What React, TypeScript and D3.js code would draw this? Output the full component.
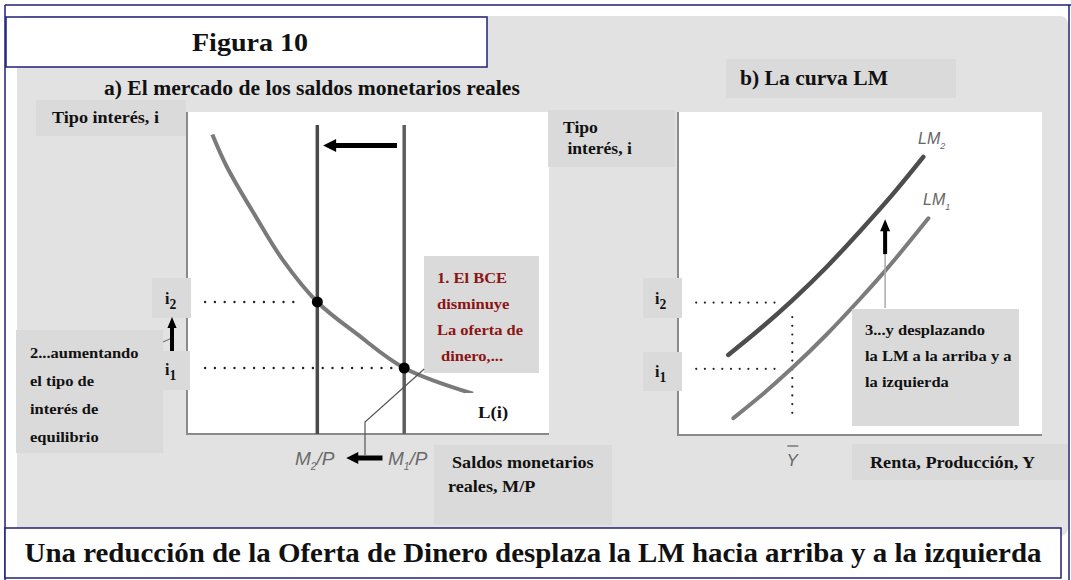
import React from 'react';
import * as d3 from 'd3';

// a) money market: demand L(i)
const demandM = [0.7, 1.1, 1.9, 2.65, 3.6, 4.7, 6.0, 7.9];
const demandI = [9.3, 8.3, 6.75, 5.4, 4.1, 3.1, 2.05, 1.25];
const supplyLevels = [3.6, 6.0]; // M2/P, M1/P
const supplyTop = 9.6;
const rateLevels = [2.05, 4.1]; // i1, i2

// b) LM curves
const lm1Y = [1.52, 2.25, 3.14, 4.09, 5.0, 5.69, 6.88];
const lm1I = [0.52, 1.19, 2.08, 3.12, 4.21, 5.08, 6.71];
const lm2Y = [1.38, 2.25, 3.17, 4.09, 5.0, 5.92, 6.74];
const lm2I = [2.48, 3.28, 4.2, 5.21, 6.31, 7.48, 8.61];
const outputLevel = 3.14; // Y barra

const bceLines = ['1. El BCE', 'disminuye', 'La oferta de', ' dinero,...'];
const rateLines = ['2...aumentando', 'el tipo de', 'interés de', 'equilibrio'];
const lmLines = ['3...y desplazando', 'la LM a la arriba y a', 'la izquierda'];

const serif = '"Liberation Serif", "Times New Roman", serif';
const sans = '"Liberation Sans", Arial, sans-serif';
const navy = '#1f1f78';
const bg = '#e2e2e2';
const box = '#dadada';

const xA = d3.scaleLinear().domain([0, 10]).range([187, 549]);
const yA = d3.scaleLinear().domain([0, 10]).range([434, 112]);
const xB = d3.scaleLinear().domain([0, 10]).range([678, 1042]);
const yB = d3.scaleLinear().domain([0, 10]).range([435, 112]);

const arrowH = (x1: number, x2: number, y: number, w = 5, head = 12) => {
  const dir = Math.sign(x2 - x1);
  return (
    <g>
      <line x1={x1} y1={y} x2={x2 - dir * head * 0.8} y2={y} stroke="#000" strokeWidth={w} />
      <path d={`M${x2},${y} L${x2 - dir * head},${y - head / 2} L${x2 - dir * head},${y + head / 2} Z`} fill="#000" />
    </g>
  );
};
const arrowV = (x: number, y1: number, y2: number, w = 4, head = 11) => {
  const dir = Math.sign(y2 - y1);
  return (
    <g>
      <line x1={x} y1={y1} x2={x} y2={y2 - dir * head * 0.8} stroke="#000" strokeWidth={w} />
      <path d={`M${x},${y2} L${x - head / 2.4},${y2 - dir * head} L${x + head / 2.4},${y2 - dir * head} Z`} fill="#000" />
    </g>
  );
};

// serif bold text, widened a bit to look like the Garamond of the original
const T = ({ lines, x, y, dy = 0, fill = '#111', size = 15, sx = 1.1, anchor = 'start' }: any) => (
  <text transform={`translate(${x},${y}) scale(${sx},1)`} fontFamily={serif} fontWeight="bold"
    fontSize={size} fill={fill} textAnchor={anchor}>
    {lines.map((l: string, k: number) => (
      <tspan key={k} x={0} y={k * dy} style={{ whiteSpace: 'pre' }}>{l}</tspan>
    ))}
  </text>
);

const Sub = ({ x, y, base, sub, size = 16 }: any) => (
  <text x={x} y={y} fontFamily={serif} fontWeight="bold" fontSize={size} fill="#111">
    {base}
    <tspan fontSize={size * 0.85} dy={5}>{sub}</tspan>
  </text>
);

const MLabel = ({ x, y, sub }: any) => (
  <text x={x} y={y} fontFamily={sans} fontStyle="italic" fontSize={19} fill="#6a6a6a">
    M<tspan fontSize={10} dy={5}>{sub}</tspan>
    <tspan dy={-5}>/P</tspan>
  </text>
);

export default function App() {
  const demand = d3.line<number>().x((d) => xA(d)).y((_, k) => yA(demandI[k])).curve(d3.curveCatmullRom);
  const lm1 = d3.line<number>().x((d) => xB(d)).y((_, k) => yB(lm1I[k])).curve(d3.curveMonotoneX);
  const lm2 = d3.line<number>().x((d) => xB(d)).y((_, k) => yB(lm2I[k])).curve(d3.curveMonotoneX);
  const [m2, m1] = supplyLevels;
  const [i1, i2] = rateLevels;

  return (
    <svg width={1071} height={580} style={{ position: 'absolute', left: 0, top: 0, background: '#fff' }}>
      {/* frame and panel background */}
      <rect x={17} y={16} width={1051} height={520} rx={8} fill={bg} />
      <line x1={5} y1={5} x2={1071} y2={5} stroke={navy} strokeWidth={1.5} />
      <line x1={5} y1={5} x2={5} y2={580} stroke={navy} strokeWidth={1.5} />
      <line x1={1069} y1={5} x2={1069} y2={580} stroke={navy} strokeWidth={1.5} />

      <rect x={6} y={17} width={481} height={50} fill="#fff" stroke={navy} strokeWidth={1.5} />
      <T lines={['Figura 10']} x={250} y={51} size={25.5} anchor="middle" />

      {/* ---------- a) money market ---------- */}
      <T lines={['a) El mercado de los saldos monetarios reales']} x={104} y={95} size={20} sx={1.08} />
      <rect x={36} y={100} width={150} height={36} fill={box} />
      <T lines={['Tipo interés, i']} x={52} y={123} size={16.5} />

      <rect x={xA(0)} y={yA(10)} width={xA(10) - xA(0)} height={yA(0) - yA(10)} fill="#fff" />
      <path d={`M${xA(0)},${yA(10)} V${yA(0)} H${xA(10)}`} fill="none" stroke="#8a8a8a" strokeWidth={2} />

      <rect x={16} y={330} width={147} height={123} fill={box} />
      <T lines={rateLines} x={30} y={358} dy={28} size={15} />
      <line x1={163} y1={342} x2={172} y2={338} stroke="#777" strokeWidth={1.2} />

      <path d={demand(demandM) ?? ''} fill="none" stroke="#7a7a7a" strokeWidth={4} />
      {supplyLevels.map((m, k) => (
        <line key={k} x1={xA(m)} y1={yA(0)} x2={xA(m)} y2={yA(supplyTop)} stroke={k === 0 ? '#4a4a4a' : '#5e5e5e'} strokeWidth={3.5} />
      ))}
      {arrowH(xA(5.8), xA(3.76), yA(8.96), 5, 13)}

      {rateLevels.map((r, k) => (
        <line key={k} x1={xA(0.5)} y1={yA(r)} x2={xA(k === 0 ? m1 : m2) - (k === 0 ? 0 : 18)} y2={yA(r)}
          stroke="#222" strokeWidth={2.4} strokeLinecap="round" strokeDasharray="0 9.8" />
      ))}
      <circle cx={xA(m2)} cy={yA(i2)} r={5.5} fill="#000" />
      <circle cx={xA(m1)} cy={yA(i1)} r={5.5} fill="#000" />

      <rect x={152} y={278} width={39} height={40} fill={box} />
      <Sub x={165} y={304} base="i" sub="2" />
      <rect x={163} y={351} width={27} height={39} fill={box} />
      <Sub x={165} y={375} base="i" sub="1" />
      {arrowV(172, 351, 317, 4, 11)}

      <rect x={424} y={256} width={115} height={117} fill={box} />
      <T lines={bceLines} x={437} y={283} dy={26} fill="#8b1414" size={15} />
      <path d={`M${xA(m1) + 20},${yA(i1) + 1} L365,422 V455`} fill="none" stroke="#555" strokeWidth={1.2} />

      <rect x={465} y={393} width={55} height={35} fill="#fff" />
      <T lines={['L(i)']} x={478} y={418} size={17} />

      <MLabel x={295} y={465} sub="2" />
      {arrowH(xA(5.4), xA(4.4), 458, 5, 12)}
      <MLabel x={388} y={465} sub="1" />

      <rect x={434} y={445} width={178} height={80} fill={box} />
      <T lines={['Saldos monetarios']} x={452} y={468} size={16.5} />
      <T lines={['reales, M/P']} x={448} y={492} size={16.5} />

      {/* ---------- b) LM curve ---------- */}
      <rect x={726} y={59} width={230} height={39} fill={box} />
      <T lines={['b) La curva LM']} x={740} y={85} size={20} sx={1.08} />

      <rect x={548} y={110} width={127} height={57} fill={box} />
      <T lines={['Tipo', ' interés, i']} x={563} y={133} dy={21} size={16} />

      <rect x={xB(0)} y={yB(10)} width={xB(10) - xB(0)} height={yB(0) - yB(10)} fill="#fff" />
      <path d={`M${xB(0)},${yB(10)} V${yB(0)} H${xB(10)}`} fill="none" stroke="#8a8a8a" strokeWidth={2} />

      {rateLevels.map((r, k) => (
        <line key={k} x1={xB(0.5)} y1={yB(r)} x2={xB(2.75)} y2={yB(r)}
          stroke="#222" strokeWidth={2.2} strokeLinecap="round" strokeDasharray="0 8.7" />
      ))}
      <line x1={xB(outputLevel)} y1={yB(3.65)} x2={xB(outputLevel)} y2={yB(0.56)}
        stroke="#222" strokeWidth={2.2} strokeLinecap="round" strokeDasharray="0 8.7" />

      <path d={lm2(lm2Y) ?? ''} fill="none" stroke="#4d4d4d" strokeWidth={4.5} strokeLinecap="round" />
      <path d={lm1(lm1Y) ?? ''} fill="none" stroke="#7c7c7c" strokeWidth={4} strokeLinecap="round" />

      <line x1={xB(5.69)} y1={yB(5.6)} x2={xB(5.69)} y2={yB(3.93)} stroke="#aaa" strokeWidth={1.5} />
      {arrowV(xB(5.69), yB(5.6), yB(6.68), 4, 12)}

      <text x={918} y={144} fontFamily={sans} fontStyle="italic" fontSize={16} fill="#666">
        LM<tspan fontSize={9} dy={5}>2</tspan>
      </text>
      <text x={923} y={205} fontFamily={sans} fontStyle="italic" fontSize={16} fill="#666">
        LM<tspan fontSize={9} dy={5}>1</tspan>
      </text>

      <rect x={643} y={278} width={39} height={40} fill={box} />
      <Sub x={655} y={304} base="i" sub="2" />
      <rect x={643} y={352} width={39} height={39} fill={box} />
      <Sub x={655} y={377} base="i" sub="1" />

      <rect x={852} y={309} width={167} height={117} fill={box} />
      <T lines={lmLines} x={865} y={335} dy={26} size={15} />

      <text x={xB(outputLevel)} y={466} textAnchor="middle" fontFamily={sans} fontStyle="italic" fontSize={17} fill="#666">Y</text>
      <line x1={xB(outputLevel) - 5} y1={446} x2={xB(outputLevel) + 6} y2={446} stroke="#777" strokeWidth={1.5} />

      <rect x={852} y={444} width={216} height={36} fill={box} />
      <T lines={['Renta, Producción, Y']} x={870} y={468} size={16.5} />

      {/* bottom caption */}
      <rect x={5} y={528} width={1056} height={50} fill="#fff" stroke={navy} strokeWidth={1.5} />
      <text x={533} y={562} textAnchor="middle" fontFamily={serif} fontWeight="bold" fontSize={27} fill="#111"
        textLength={1017} lengthAdjust="spacingAndGlyphs">
        Una reducción de la Oferta de Dinero desplaza la LM hacia arriba y a la izquierda
      </text>
    </svg>
  );
}
